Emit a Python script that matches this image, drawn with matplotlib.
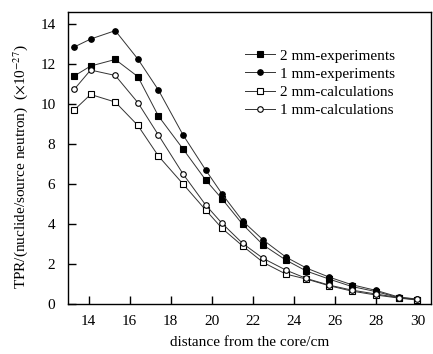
import matplotlib.pyplot as plt

plt.rcParams['font.family'] = ['Liberation Serif', 'DejaVu Serif']
plt.rcParams['mathtext.fontset'] = 'stix'

distance = [13.3, 14.1, 15.3, 16.4, 17.4, 18.6, 19.7, 20.5, 21.5, 22.5,
            23.6, 24.6, 25.7, 26.8, 28.0, 29.1, 30.0]

exp_2mm = [11.4, 11.9, 12.23, 11.37, 9.4, 7.75, 6.2, 5.25, 3.98, 2.95,
           2.2, 1.65, 1.25, 0.88, 0.62, 0.32, 0.22]
exp_1mm = [12.85, 13.25, 13.67, 12.25, 10.7, 8.45, 6.7, 5.5, 4.15, 3.2,
           2.35, 1.8, 1.35, 0.97, 0.68, 0.35, 0.25]
calc_2mm = [9.7, 10.48, 10.1, 8.93, 7.4, 6.0, 4.7, 3.78, 2.9, 2.08,
            1.5, 1.25, 0.92, 0.65, 0.45, 0.3, 0.2]
calc_1mm = [10.73, 11.7, 11.43, 10.07, 8.45, 6.5, 4.95, 4.03, 3.03, 2.28,
            1.7, 1.28, 0.95, 0.7, 0.5, 0.32, 0.25]

labels = ['2 mm-experiments', '1 mm-experiments',
          '2 mm-calculations', '1 mm-calculations']

fig = plt.figure(figsize=(4.33, 3.54), dpi=100)
ax = fig.add_axes([0.157, 0.141, 0.838, 0.825])

line_kw = dict(color='#333333', lw=0.7, markersize=4, markeredgewidth=0.8)
ax.plot(distance, exp_2mm, marker='s', mfc='black', mec='black', label=labels[0], **line_kw)
ax.plot(distance, exp_1mm, marker='o', mfc='black', mec='black', label=labels[1], **line_kw)
ax.plot(distance, calc_2mm, marker='s', mfc='white', mec='black', label=labels[2], **line_kw)
ax.plot(distance, calc_1mm, marker='o', mfc='white', mec='black', label=labels[3], **line_kw)

ax.set_xlim(13.0, 30.65)
ax.set_ylim(0, 14.6)
ax.set_xticks(range(14, 31, 2))
ax.set_yticks(range(0, 15, 2))
ax.tick_params(direction='in', length=6, width=1, labelsize=11,
               top=False, right=False)
ax.tick_params(axis='y', pad=9)
ax.tick_params(axis='x', pad=8)
for s in ax.spines.values():
    s.set_linewidth(1)

ax.set_xlabel('distance from the core/cm', fontsize=11)
ax.set_ylabel(r'TPR/(nuclide/source neutron)  ($\times$10$^{-27}$)', fontsize=11)
ax.xaxis.set_label_coords(0.5, -0.11)
ax.yaxis.set_label_coords(-0.105, 0.47)

ax.legend(loc='upper left', bbox_to_anchor=(0.47, 0.895), frameon=False,
          fontsize=11, handlelength=2.0, handletextpad=0.3, labelspacing=0.3,
          borderaxespad=0.0)

fig.savefig('out.png', dpi=100)
